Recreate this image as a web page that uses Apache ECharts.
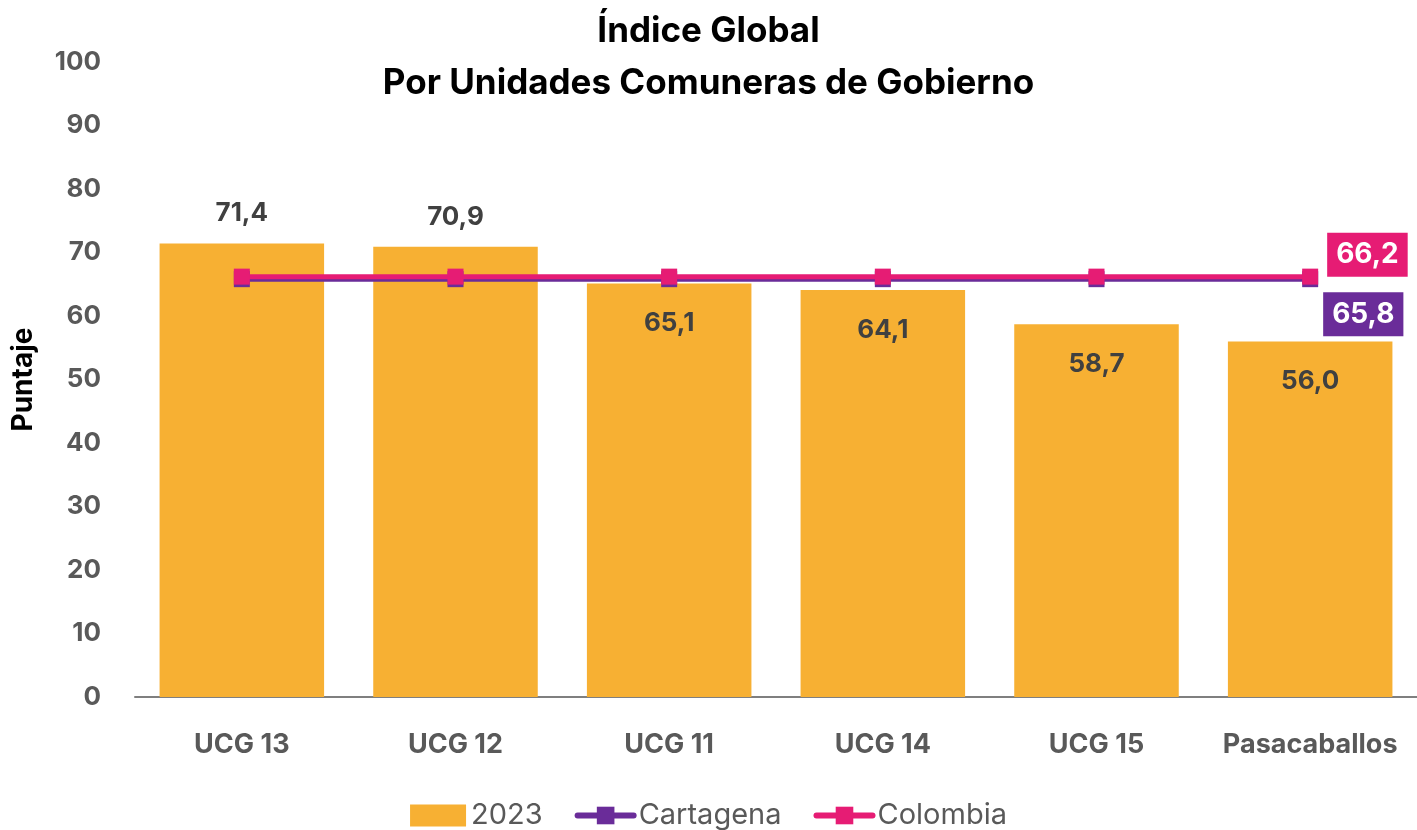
<!DOCTYPE html>
<html>
<head>
<meta charset="utf-8">
<script src="https://cdn.jsdelivr.net/npm/echarts@6/dist/echarts.min.js"></script>
<style>html,body{margin:0;padding:0;background:#fff}#c{width:1417px;height:830px}</style>
</head>
<body>
<div id="c"></div>
<script>
const categories = ['UCG 13', 'UCG 12', 'UCG 11', 'UCG 14', 'UCG 15', 'Pasacaballos'];
const values2023 = [71.4, 70.9, 65.1, 64.1, 58.7, 56.0];
const cartagena = [65.8, 65.8, 65.8, 65.8, 65.8, 65.8];
const colombia = [66.2, 66.2, 66.2, 66.2, 66.2, 66.2];
const yTicks = [0, 10, 20, 30, 40, 50, 60, 70, 80, 90, 100];

const FONT = 'Inter, "Noto Sans", sans-serif';
const fmt = v => v.toFixed(1).replace('.', ',');

const barData = values2023.map((v, i) => ({
  value: v,
  label: i < 2 ? { position: 'top', distance: 17 } : { position: 'insideTop', distance: 27 }
}));

const lastIdx = categories.length - 1;
function lineData(arr, color, pos) {
  return arr.map((v, i) => i === lastIdx ? {
    value: v,
    label: {
      show: true, formatter: p => fmt(p.value), color: '#fff', backgroundColor: color,
      fontFamily: FONT, fontWeight: 'bold', fontSize: 28, padding: [8, 9, 8, 9],
      position: pos.position, offset: pos.offset
    }
  } : v);
}

const chart = echarts.init(document.getElementById('c'));
chart.setOption({
  animation: false,
  title: {
    text: 'Índice Global\nPor Unidades Comuneras de Gobierno',
    left: 'center', top: 0,
    textStyle: { fontFamily: FONT, fontWeight: 'bold', fontSize: 35, color: '#000', lineHeight: 52 }
  },
  legend: {
    top: 796, left: 'center', itemWidth: 56, itemHeight: 22, itemGap: 32,
    textStyle: { fontFamily: FONT, fontSize: 29, color: '#595959' },
    lineStyle: { width: 6, cap: 'round' },
    data: [{ name: '2023', icon: 'rect' }, 'Cartagena', 'Colombia']
  },
  grid: { left: 135, right: 0, top: 62, bottom: 133 },
  xAxis: {
    type: 'category', data: categories,
    axisLine: { lineStyle: { color: '#7f7f7f', width: 2 } },
    axisTick: { show: false },
    axisLabel: { interval: 0, hideOverlap: false, fontFamily: FONT, fontWeight: 'bold', fontSize: 27, color: '#595959', margin: 34 }
  },
  yAxis: {
    type: 'value', min: 0, max: 100, interval: 10,
    name: 'Puntaje', nameLocation: 'middle', nameGap: 97, nameRotate: 90,
    nameTextStyle: { fontFamily: FONT, fontWeight: 'bold', fontSize: 28, color: '#000' },
    splitLine: { show: false }, axisLine: { show: false }, axisTick: { show: false },
    axisLabel: {
      fontFamily: FONT, fontWeight: 'bold', fontSize: 26, color: '#595959', margin: 34,
      formatter: v => yTicks.includes(v) ? String(v) : ''
    }
  },
  series: [
    {
      name: '2023', type: 'bar', data: barData, barCategoryGap: '23%',
      itemStyle: { color: '#F7B033' },
      label: { show: true, formatter: p => fmt(p.value), fontFamily: FONT, fontWeight: 'bold', fontSize: 26, color: '#404040' }
    },
    {
      name: 'Cartagena', type: 'line', data: lineData(cartagena, '#6A2C99', { position: 'right', offset: [0, 35] }),
      symbol: 'rect', symbolSize: 16, lineStyle: { color: '#6A2C99', width: 5 },
      itemStyle: { color: '#6A2C99' }, z: 3
    },
    {
      name: 'Colombia', type: 'line', data: lineData(colombia, '#E61C74', { position: 'right', offset: [4, -22] }),
      symbol: 'rect', symbolSize: 16, lineStyle: { color: '#E61C74', width: 5 },
      itemStyle: { color: '#E61C74' }, z: 4
    }
  ]
});
</script>
</body>
</html>
